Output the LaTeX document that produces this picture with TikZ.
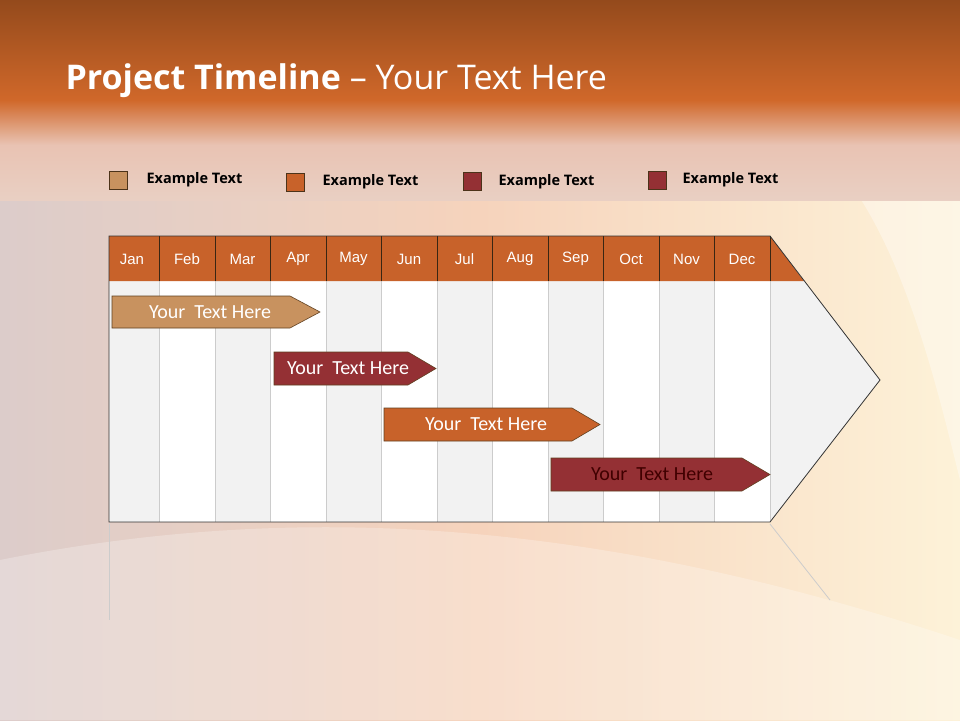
\documentclass[tikz,border=0pt]{standalone}
\usepackage{fontspec}
\setmainfont{Open Sans}
\newfontfamily\arialf{Liberation Sans}
\newfontfamily\calf{Carlito}
\definecolor{tan}{HTML}{C8925F}
\definecolor{org}{HTML}{C8622A}
\definecolor{dred}{HTML}{943034}
\definecolor{lgray}{HTML}{F2F2F2}
\definecolor{topb}{HTML}{944A1C}
\definecolor{midb}{HTML}{D0682A}
\definecolor{pinkb}{HTML}{E9C3B3}
\definecolor{greyp}{HTML}{DCCCCA}
\definecolor{peach}{HTML}{F6D3BC}
\definecolor{cream}{HTML}{FDF2D8}
\tikzset{
 legbox/.style={draw=black!60!brown,line width=0.6pt,minimum size=18pt,inner sep=0},
 legtxt/.style={anchor=west,font=\bfseries\fontsize{14.5}{16}\selectfont,text=black},
 mon/.style={font=\arialf\fontsize{15}{17}\selectfont,text=white},
 bartxt/.style={font=\calf\fontsize{20}{22}\selectfont},
 bar/.style={draw=black!50!brown,line width=0.6pt}
}
\begin{document}
\begin{tikzpicture}[x=1pt,y=-1pt]
\useasboundingbox (0,0) rectangle (960,720);
% background
\shade[left color=greyp, right color=cream, middle color=peach] (0,130) rectangle (960,720);
\fill[white,opacity=0.35] (820,150) .. controls (900,220) and (940,400) .. (960,480) -- (960,150) -- cycle;
\fill[white,opacity=0.25] (0,560) .. controls (300,500) and (600,520) .. (960,640) -- (960,720) -- (0,720) -- cycle;
\shade[top color=topb, bottom color=midb] (0,0) rectangle (960,100);
\shade[top color=midb, bottom color=pinkb] (0,100) rectangle (960,145);
\shade[top color=pinkb, bottom color=greyp!50!peach] (0,145) rectangle (960,200);
\node[anchor=west,text=white,font=\fontsize{34}{38}\selectfont] (title) at (62,81) {\textbf{Project Timeline} -- Your Text Here};
% legend
\node[legbox,fill=tan] (l1) at (118,180) {};
\node[legtxt] (t1) at (143,180) {Example Text};
\node[legbox,fill=org] (l2) at (295,182) {};
\node[legtxt] (t2) at (319,182) {Example Text};
\node[legbox,fill=dred] (l3) at (472,181) {};
\node[legtxt] (t3) at (495,182) {Example Text};
\node[legbox,fill=dred] (l4) at (657,180) {};
\node[legtxt] (t4) at (679,180) {Example Text};
% reflection
\draw[gray!40,line width=0.8pt] (109,524) -- (109,620);
\draw[gray!40,line width=0.8pt] (770,524) -- (830,600);
% body
\fill[lgray] (770,236) -- (880,380) -- (770,522) -- cycle;
\foreach \a/\b/\c in {109/159/lgray,159/215/white,215/270/lgray,270/326/white,326/381/lgray,381/437/white,437/492/lgray,492/548/white,548/603/lgray,603/659/white,659/714/lgray,714/770/white}{
  \fill[\c] (\a,281) rectangle (\b,522);
}
\foreach \x in {159,215,270,326,381,437,492,548,603,659,714,770}{
  \draw[gray!40,line width=0.9pt] (\x,281) -- (\x,522);
}
% header
\fill[org] (109,236) -- (770,236) -- (804,281) -- (109,281) -- cycle;
\foreach \x in {159,215,270,326,381,437,492,548,603,659,714,770}{
  \draw[black!70!brown,line width=0.7pt] (\x,236) -- (\x,281);
}
\foreach \m/\x in {Jan/132,Feb/187,Mar/242.5,Apr/298,May/353.5,Jun/409,Jul/464.5,Aug/520,Sep/575.5,Oct/631,Nov/686.5,Dec/742}{
  \node[mon] (m\m) at (\x,259) {\m};
}
\draw[black!80,line width=0.8pt] (109,522) -- (109,236) -- (770,236) -- (880,380) -- (770,522) -- cycle;
% bars
\draw[bar,fill=tan] (112,296) -- (290,296) -- (320,312) -- (290,328) -- (112,328) -- cycle;
\node[bartxt,text=white] (b1) at (210,312) {Your\ \ Text Here};
\draw[bar,fill=dred] (274,352) -- (408,352) -- (436,368.5) -- (408,385) -- (274,385) -- cycle;
\node[bartxt,text=white] (b2) at (348,368.5) {Your\ \ Text Here};
\draw[bar,fill=org] (384,408) -- (572,408) -- (600,424.5) -- (572,441) -- (384,441) -- cycle;
\node[bartxt,text=white] (b3) at (486,424.5) {Your\ \ Text Here};
\draw[bar,fill=dred] (551,458) -- (742,458) -- (770,474.5) -- (742,491) -- (551,491) -- cycle;
\node[bartxt,text=black!75!red] (b4) at (652,474.5) {Your\ \ Text Here};
\end{tikzpicture}
\end{document}
